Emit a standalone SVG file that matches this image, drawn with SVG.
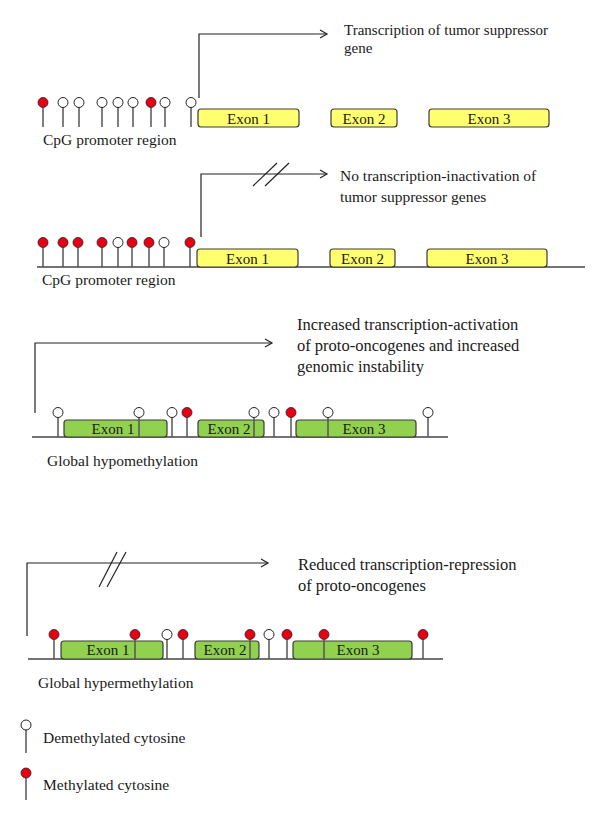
<svg xmlns="http://www.w3.org/2000/svg" width="600" height="822" viewBox="0 0 600 822">
<style>
.t{font-family:"Liberation Serif","Times New Roman",serif;font-size:15.5px;fill:#1a1a1a}
.h1{font-size:15px}
.h3{font-size:16.5px}
.ex{font-family:"Liberation Serif","Times New Roman",serif;font-size:15px;fill:#1a1a1a;text-anchor:middle}
.y{fill:#ffff70;stroke:#3a3a3a;stroke-width:1.2}
.g{fill:#92d050;stroke:#3a3a3a;stroke-width:1.2}
.base{stroke:#444;stroke-width:1.3;fill:none}
.stem{stroke:#555;stroke-width:1.5}
.cw{fill:#fff;stroke:#222;stroke-width:1}
.cr{fill:#e60012;stroke:#222;stroke-width:0.8}
.arr{stroke:#222;stroke-width:1.2;fill:none}
</style>
<defs>
<marker id="ah" markerWidth="10" markerHeight="10" refX="8" refY="5" orient="auto" markerUnits="userSpaceOnUse">
<path d="M1,1 L8,5 L1,9" fill="none" stroke="#222" stroke-width="1.2"/>
</marker>
<g id="lw"><line x1="0" y1="5" x2="0" y2="24.5" class="stem"/><circle r="5" class="cw"/></g>
<g id="lr"><line x1="0" y1="5" x2="0" y2="24.5" class="stem"/><circle r="5" class="cr"/></g>
</defs>

<g id="connectors">
<path class="arr" d="M199,98 V34 H327" marker-end="url(#ah)"/>
<path class="arr" d="M201,237 V174 H327" marker-end="url(#ah)"/>
<line class="arr" x1="253" y1="186" x2="277" y2="163"/>
<line class="arr" x1="265" y1="186" x2="289" y2="163"/>
<path class="arr" d="M35,413 V343 H272" marker-end="url(#ah)"/>
<path class="arr" d="M27,636 V563 H268" marker-end="url(#ah)"/>
<line class="arr" x1="99" y1="587" x2="117" y2="552"/>
<line class="arr" x1="107" y1="587" x2="126" y2="552"/>
</g>

<g id="panel1">
<g id="p1-exon1"><rect class="y" x="198" y="109" width="101" height="18" rx="3"/><text class="ex" x="248.5" y="123.5">Exon 1</text></g>
<g id="p1-exon2"><rect class="y" x="331" y="109" width="66" height="18" rx="3"/><text class="ex" x="364" y="123.5">Exon 2</text></g>
<g id="p1-exon3"><rect class="y" x="429" y="109" width="120" height="18" rx="3"/><text class="ex" x="489" y="123.5">Exon 3</text></g>
<g id="p1-cpg">
<use href="#lr" x="43" y="102.5"/><use href="#lw" x="63" y="102.5"/><use href="#lw" x="79" y="102.5"/>
<use href="#lw" x="102" y="102.5"/><use href="#lw" x="118" y="102.5"/><use href="#lw" x="133" y="102.5"/>
<use href="#lr" x="151" y="102.5"/><use href="#lw" x="165" y="102.5"/><use href="#lw" x="191" y="102.5"/>
</g>
<text class="t" x="43" y="145">CpG promoter region</text>
<text class="t h1" x="344" y="35">Transcription of tumor suppressor</text>
<text class="t h1" x="344" y="53">gene</text>
</g>

<g id="panel2">
<line class="base" x1="37" y1="267" x2="585" y2="267"/>
<g id="p2-exon1"><rect class="y" x="197" y="249" width="101" height="18" rx="3"/><text class="ex" x="247.5" y="263.5">Exon 1</text></g>
<g id="p2-exon2"><rect class="y" x="330" y="249" width="65" height="18" rx="3"/><text class="ex" x="362.5" y="263.5">Exon 2</text></g>
<g id="p2-exon3"><rect class="y" x="427" y="249" width="120" height="18" rx="3"/><text class="ex" x="487" y="263.5">Exon 3</text></g>
<g id="p2-cpg">
<use href="#lr" x="43" y="242.5"/><use href="#lr" x="63" y="242.5"/><use href="#lr" x="78" y="242.5"/>
<use href="#lr" x="102" y="242.5"/><use href="#lw" x="118" y="242.5"/><use href="#lr" x="132" y="242.5"/>
<use href="#lr" x="149" y="242.5"/><use href="#lw" x="164" y="242.5"/><use href="#lr" x="190" y="242.5"/>
</g>
<text class="t" x="42" y="285">CpG promoter region</text>
<text class="t" x="340" y="181">No transcription-inactivation of</text>
<text class="t" x="340" y="202">tumor suppressor genes</text>
</g>

<g id="panel3">
<line class="base" x1="32" y1="437" x2="448" y2="437"/>
<g id="p3-exon1"><rect class="g" x="64" y="420" width="103" height="17" rx="3"/><text class="ex" x="113" y="433.5">Exon 1</text></g>
<g id="p3-exon2"><rect class="g" x="198" y="420" width="66" height="17" rx="3"/><text class="ex" x="229" y="433.5">Exon 2</text></g>
<g id="p3-exon3"><rect class="g" x="296" y="420" width="120" height="17" rx="3"/><text class="ex" x="364" y="433.5">Exon 3</text></g>
<g id="p3-cpg">
<use href="#lw" x="58" y="412.5"/><use href="#lw" x="139" y="412.5"/><use href="#lw" x="172" y="412.5"/>
<use href="#lr" x="187" y="412.5"/><use href="#lw" x="254" y="412.5"/><use href="#lw" x="274" y="412.5"/>
<use href="#lr" x="291" y="412.5"/><use href="#lw" x="328" y="412.5"/><use href="#lw" x="428" y="412.5"/>
</g>
<text class="t" x="47" y="466">Global hypomethylation</text>
<text class="t h3" x="297" y="330">Increased transcription-activation</text>
<text class="t h3" x="297" y="351">of proto-oncogenes and increased</text>
<text class="t h3" x="297" y="372">genomic instability</text>
</g>

<g id="panel4">
<line class="base" x1="28" y1="659" x2="443" y2="659"/>
<g id="p4-exon1"><rect class="g" x="61" y="641" width="102" height="18" rx="3"/><text class="ex" x="108" y="654.5">Exon 1</text></g>
<g id="p4-exon2"><rect class="g" x="195" y="641" width="64" height="18" rx="3"/><text class="ex" x="225" y="654.5">Exon 2</text></g>
<g id="p4-exon3"><rect class="g" x="293" y="641" width="119" height="18" rx="3"/><text class="ex" x="358" y="654.5">Exon 3</text></g>
<g id="p4-cpg">
<use href="#lr" x="54" y="634.5"/><use href="#lr" x="135" y="634.5"/><use href="#lw" x="167" y="634.5"/>
<use href="#lr" x="183" y="634.5"/><use href="#lr" x="250" y="634.5"/><use href="#lw" x="269" y="634.5"/>
<use href="#lr" x="287" y="634.5"/><use href="#lr" x="324" y="634.5"/><use href="#lr" x="423" y="634.5"/>
</g>
<text class="t" x="38" y="688">Global hypermethylation</text>
<text class="t h3" x="298" y="570">Reduced transcription-repression</text>
<text class="t h3" x="298" y="591">of proto-oncogenes</text>
</g>

<g id="legend">
<g id="leg-demeth"><line x1="26" y1="730" x2="26" y2="753" class="stem"/><circle cx="26" cy="725" r="5" class="cw"/><text class="t" x="43" y="743">Demethylated cytosine</text></g>
<g id="leg-meth"><line x1="26" y1="778" x2="26" y2="800" class="stem"/><circle cx="26" cy="773" r="5" class="cr"/><text class="t" x="43" y="790">Methylated cytosine</text></g>
</g>
</svg>
